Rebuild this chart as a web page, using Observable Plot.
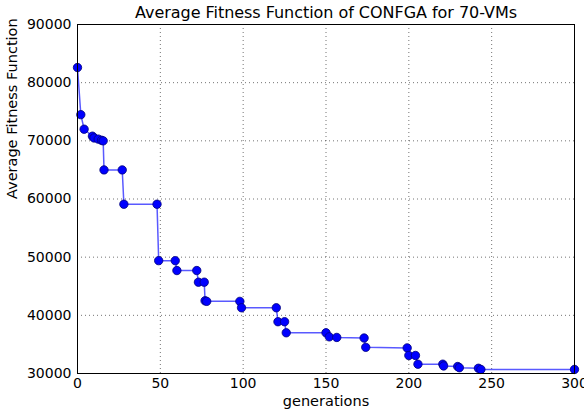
<!DOCTYPE html>
<html><head><meta charset="utf-8">
<script src="https://cdn.jsdelivr.net/npm/d3@7"></script>
<script src="https://cdn.jsdelivr.net/npm/@observablehq/plot@0.6"></script>
<style>body{margin:0;background:#fff;font-family:"DejaVu Sans",sans-serif}</style>
</head><body><div id="chart"></div>
<script>
const generations = [0, 2, 4, 9, 10, 12.5, 14.5, 15.5, 16, 27, 28, 48, 49, 59, 60, 72, 73, 76.5, 77, 78, 98, 99, 120, 121, 125, 126, 150, 152, 156.5, 173, 174, 199, 200, 204, 205.5, 220.5, 221, 229.5, 230.5, 242, 243.5, 300];
const fitness = [82600, 74500, 72000, 70800, 70500, 70300, 70100, 70000, 65000, 65000, 59100, 59100, 49400, 49400, 47700, 47700, 45700, 45700, 42500, 42400, 42400, 41300, 41300, 38900, 38900, 37000, 37000, 36300, 36200, 36100, 34500, 34400, 33100, 33100, 31600, 31600, 31300, 31200, 31000, 30900, 30700, 30700];
const xTicks = [0, 50, 100, 150, 200, 250, 300];
const yTicks = [30000, 40000, 50000, 60000, 70000, 80000, 90000];
const titleText = "Average Fitness Function of CONFGA for 70-VMs";

const data = generations.map((g, i) => ({g, f: fitness[i]}));
const fmt = d => String(d);

const chart = Plot.plot({
  width: 584, height: 416,
  marginLeft: 77, marginRight: 10, marginTop: 24, marginBottom: 43,
  style: {fontFamily: "DejaVu Sans, sans-serif", fontSize: "14px", color: "#000", background: "#fff", overflow: "visible"},
  x: {domain: [0, 300]},
  y: {domain: [30000, 90000]},
  marks: [
    Plot.gridX(xTicks, {stroke: "#000", strokeOpacity: 0.55, strokeDasharray: "1,3"}),
    Plot.gridY(yTicks, {stroke: "#000", strokeOpacity: 0.55, strokeDasharray: "1,3"}),
    Plot.axisX(xTicks, {tickSize: 0, tickPadding: 5, fontSize: 14, tickFormat: fmt, label: null}),
    Plot.axisY(yTicks, {tickSize: 0, tickPadding: 6, fontSize: 14, tickFormat: fmt, label: null}),
    Plot.text(["generations"], {frameAnchor: "bottom", dy: 32, text: d => d, fontSize: 14.5, fill: "#000"}),
    Plot.text(["Average Fitness Function"], {frameAnchor: "left", dx: -65, rotate: -90, text: d => d, fontSize: 14.5, fill: "#000"}),
    Plot.line(data, {x: "g", y: "f", stroke: "#0000ff", strokeOpacity: 0.65, strokeWidth: 1.5}),
    Plot.dot(data, {x: "g", y: "f", r: 4.2, fill: "#0000ff", stroke: "#00007a", strokeWidth: 0.8}),
    Plot.frame({stroke: "#000", strokeWidth: 1}),
    Plot.text([titleText], {frameAnchor: "top", lineAnchor: "middle", dy: -12, text: d => d, fontSize: 16, fill: "#000", className: "title"})
  ]
});
d3.select(chart).selectAll(".title text").attr("textLength", 382).attr("lengthAdjust", "spacing");
document.getElementById("chart").appendChild(chart);
</script>
</body></html>
